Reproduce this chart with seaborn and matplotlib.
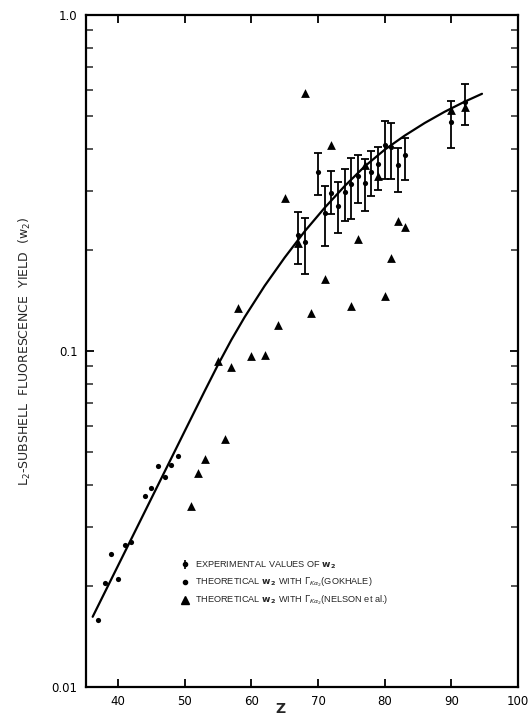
import numpy as np
import pandas as pd
import matplotlib
matplotlib.use("Agg")
import matplotlib.pyplot as plt
from matplotlib import font_manager
from matplotlib.lines import Line2D
from matplotlib.legend_handler import HandlerErrorbar
from matplotlib.ticker import FixedLocator, LogLocator, NullFormatter
import seaborn as sns

# ---------------- data ----------------
# Experimental w2 values with error bars
exp_z = [67, 68, 70, 71, 72, 73, 74, 75, 76, 77, 78, 79, 80, 81, 82, 83, 90, 92]
exp_w = [0.222, 0.211, 0.341, 0.258, 0.296, 0.271, 0.298, 0.313, 0.331, 0.316,
         0.341, 0.360, 0.409, 0.404, 0.358, 0.382, 0.479, 0.550]
exp_hi = [0.259, 0.249, 0.389, 0.309, 0.344, 0.318, 0.347, 0.375, 0.384, 0.374,
          0.394, 0.406, 0.482, 0.477, 0.402, 0.429, 0.556, 0.624]
exp_lo = [0.181, 0.170, 0.291, 0.205, 0.255, 0.225, 0.244, 0.247, 0.276, 0.261,
          0.289, 0.301, 0.326, 0.325, 0.298, 0.322, 0.403, 0.469]

# Theoretical w2 with Gamma K-alpha2 (Gokhale)
gok_z = [37, 38, 39, 40, 41, 42, 44, 45, 46, 47, 48, 49]
gok_w = [0.0158, 0.0204, 0.0248, 0.0209, 0.0265, 0.0271, 0.0369, 0.0391,
         0.0454, 0.0422, 0.0459, 0.0486]

# Theoretical w2 with Gamma K-alpha2 (Nelson et al.)
nel_z = [51, 52, 53, 55, 56, 57, 58, 60, 62, 64, 65, 67, 68, 69, 71, 72,
         75, 76, 77, 79, 80, 81, 82, 83, 90, 92]
nel_w = [0.0346, 0.0433, 0.0476, 0.0936, 0.0548, 0.0899, 0.1343, 0.0969,
         0.0973, 0.1193, 0.2848, 0.2096, 0.584, 0.1297, 0.1637, 0.4116,
         0.1363, 0.2151, 0.357, 0.3323, 0.1455, 0.1886, 0.2445, 0.2332,
         0.5225, 0.5315]

# Fitted curve
curve_z = [36.2, 38, 42, 46, 50, 53, 55, 57, 59, 62, 65, 68, 71, 74, 77,
           80, 83, 86, 89, 92, 94.6]
curve_w = [0.01618, 0.0191, 0.0276, 0.0399, 0.0577, 0.0760, 0.0910, 0.1079,
           0.1262, 0.1563, 0.1897, 0.2270, 0.2669, 0.3097, 0.3543, 0.3972,
           0.4375, 0.4770, 0.5153, 0.5522, 0.5828]

x_ticks = [40, 50, 60, 70, 80, 90, 100]
y_ticks = [0.01, 0.1, 1.0]
y_tick_labels = ["0.01", "0.1", "1.0"]

legend_labels = [
    r"EXPERIMENTAL VALUES OF $\mathbf{w_2}$",
    r"THEORETICAL $\mathbf{w}_{\,\mathbf{2}}$ WITH $\Gamma_{K\alpha_2}$(GOKHALE)",
    r"THEORETICAL $\mathbf{w}_{\,\mathbf{2}}$ WITH $\Gamma_{K\alpha_2}$(NELSON et al.)",
]

# ---------------- style ----------------
sns.set_style("ticks")
plt.rcParams["font.family"] = ["DejaVu Sans"]
plt.rcParams["mathtext.fontset"] = "dejavusans"

avail = {f.name for f in font_manager.fontManager.ttflist}
if "Liberation Sans Narrow" in avail:
    legend_family = ["Liberation Sans Narrow", "DejaVu Sans"]
    legend_size = 7.5
else:
    legend_family = ["Liberation Sans", "DejaVu Sans"]
    legend_size = 6.6

W, H = 531, 716
fig = plt.figure(figsize=(W / 100, H / 100), dpi=100)
ax = fig.add_axes([86 / W, (H - 687) / H, (518 - 86) / W, (687 - 15) / H])

curve_df = pd.DataFrame({"Z": curve_z, "w": curve_w})
gok_df = pd.DataFrame({"Z": gok_z, "w": gok_w})
nel_df = pd.DataFrame({"Z": nel_z, "w": nel_w})
exp_df = pd.DataFrame({"Z": exp_z, "w": exp_w, "hi": exp_hi, "lo": exp_lo})

sns.lineplot(data=curve_df, x="Z", y="w", color="black", linewidth=1.6,
             ax=ax, legend=False, sort=True)

yerr = np.array([exp_df["w"] - exp_df["lo"], exp_df["hi"] - exp_df["w"]])
ax.errorbar(exp_df["Z"], exp_df["w"], yerr=yerr, fmt="none", ecolor="black",
            elinewidth=1.3, capsize=2.8, capthick=1.3, zorder=3)
sns.scatterplot(data=exp_df, x="Z", y="w", color="black", marker="o", s=14,
                edgecolor="black", linewidth=0, ax=ax, zorder=4, legend=False)
sns.scatterplot(data=gok_df, x="Z", y="w", color="black", marker="o", s=14,
                edgecolor="black", linewidth=0, ax=ax, zorder=4, legend=False)
sns.scatterplot(data=nel_df, x="Z", y="w", color="black", marker="^", s=40,
                edgecolor="black", linewidth=0, ax=ax, zorder=4, legend=False)

ax.set_yscale("log")
ax.set_xlim(35.2, 100)
ax.set_ylim(0.01, 1.0)

ax.xaxis.set_major_locator(FixedLocator(x_ticks))
ax.set_xticklabels([str(t) for t in x_ticks])
ax.yaxis.set_major_locator(FixedLocator(y_ticks))
ax.set_yticklabels(y_tick_labels)
ax.yaxis.set_minor_locator(LogLocator(base=10, subs=np.arange(2, 10)))
ax.yaxis.set_minor_formatter(NullFormatter())

for s in ax.spines.values():
    s.set_visible(True)
    s.set_linewidth(1.6)
    s.set_color("black")

ax.tick_params(axis="both", which="major", direction="in", length=6, width=1.3,
               top=True, right=True, labelsize=8.5, colors="black", pad=6)
ax.tick_params(axis="y", which="minor", direction="in", length=5, width=1.1,
               left=True, right=True)
ax.tick_params(axis="x", which="minor", bottom=False, top=False)

ax.set_xlabel("Z", fontsize=10, fontweight="bold")
ax.xaxis.set_label_coords((280 - 86) / 432, -0.022)
ax.set_ylabel(r"L$_2$-SUBSHELL  FLUORESCENCE  YIELD  (w$_2$)", fontsize=9)
ax.yaxis.set_label_coords(-0.123, 0.5)

eb = ax.errorbar([], [], yerr=[], fmt="o", color="black", markersize=3,
                 elinewidth=1.2, capsize=2.5, capthick=1.2)
handles = [
    eb,
    Line2D([0], [0], color="black", marker="o", markersize=3, linestyle="none"),
    Line2D([0], [0], color="black", marker="^", markersize=6, linestyle="none"),
]
leg = ax.legend(handles, legend_labels, loc="upper left",
                bbox_to_anchor=((178 - 86) / 432, (687 - 555) / 672),
                frameon=False, handlelength=0.8, handletextpad=0.7,
                labelspacing=0.5, borderaxespad=0,
                handler_map={type(eb): HandlerErrorbar(yerr_size=0.5)},
                prop={"family": legend_family, "size": legend_size})

fig.savefig("out.png", dpi=100)
